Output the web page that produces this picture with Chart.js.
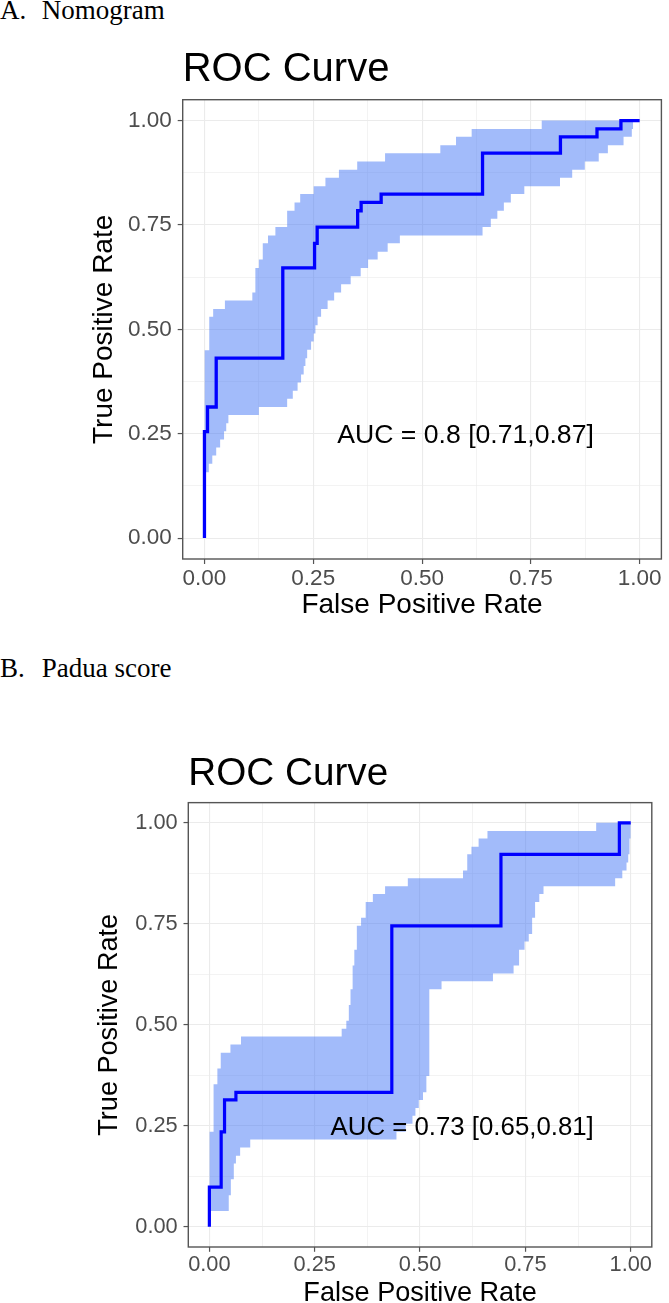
<!DOCTYPE html>
<html lang="en">
<head>
<meta charset="utf-8">
<title>ROC curves — Nomogram vs Padua score</title>
<script src="https://cdn.jsdelivr.net/npm/chart.js@4.4.1/dist/chart.umd.min.js"></script>
<style>
  html, body { margin: 0; padding: 0; background: #fff; overflow: hidden; }
  body { position: relative; width: 669px; height: 1303px; }
  .panel-head { position: absolute; left: 0; width: 300px; height: 30px;
    font: 27px/1 "Liberation Serif", "Times New Roman", serif; color: #000; white-space: nowrap; }
  .panel-head span { position: absolute; top: 0; }
  .panel-head .tag { left: 0; }
  .panel-head .name { left: 41.7px; }
  canvas { position: absolute; left: 0; }
</style>
</head>
<body>
  <div class="panel-head" style="top:-2.6px"><span class="tag">A.</span><span class="name">Nomogram</span></div>
  <canvas id="rocA" width="669" height="610" style="top:30px;width:669px;height:610px"></canvas>
  <div class="panel-head" style="top:654.7px"><span class="tag">B.</span><span class="name">Padua score</span></div>
  <canvas id="rocB" width="669" height="600" style="top:720px;width:669px;height:600px"></canvas>

<script>
/* values */
const gridTicks = [0, 0.125, 0.25, 0.375, 0.5, 0.625, 0.75, 0.875, 1];
const majorTicks = [0, 0.25, 0.5, 0.75, 1];
const majorLabels = ['0.00', '0.25', '0.50', '0.75', '1.00'];

// A. Nomogram — ROC steps
const nomoFpr = [0, 0, 0.007, 0.027, 0.180, 0.253, 0.259, 0.352, 0.360, 0.406, 0.639, 0.818, 0.902, 0.957, 1];
const nomoTpr = [0, 0.255, 0.314, 0.431, 0.647, 0.706, 0.745, 0.784, 0.804, 0.824, 0.922, 0.961, 0.980, 1, 1];
// A. confidence band, upper edge
const nomoUpFpr = [0, 0.011, 0.020, 0.047, 0.110, 0.117, 0.125, 0.134, 0.146, 0.163, 0.190, 0.207,
  0.220, 0.251, 0.278, 0.309, 0.351, 0.415, 0.542, 0.578, 0.614, 0.775, 0.985];
const nomoUpTpr = [0.450, 0.530, 0.549, 0.569, 0.588, 0.647, 0.667, 0.706, 0.725, 0.745, 0.784, 0.804,
  0.824, 0.843, 0.863, 0.882, 0.902, 0.922, 0.941, 0.961, 0.980, 1, 1];
// A. confidence band, lower edge
const nomoLoFpr = [0, 0.010, 0.018, 0.027, 0.036, 0.045, 0.050, 0.055, 0.125, 0.190, 0.203, 0.214,
  0.222, 0.228, 0.232, 0.236, 0.245, 0.251, 0.255, 0.260, 0.268, 0.283, 0.298, 0.314, 0.336, 0.359,
  0.376, 0.398, 0.421, 0.449, 0.639, 0.658, 0.673, 0.688, 0.704, 0.735, 0.817, 0.845, 0.874, 0.906,
  0.927, 0.963, 0.982, 0.985];
const nomoLoTpr = [0.158, 0.178, 0.198, 0.217, 0.236, 0.256, 0.275, 0.295, 0.314, 0.334, 0.353, 0.373,
  0.392, 0.412, 0.431, 0.451, 0.471, 0.490, 0.510, 0.530, 0.549, 0.569, 0.588, 0.608, 0.627, 0.647,
  0.667, 0.686, 0.706, 0.725, 0.745, 0.765, 0.784, 0.804, 0.824, 0.843, 0.863, 0.882, 0.902, 0.922,
  0.941, 0.961, 0.980, 0.980];

// B. Padua score — ROC steps
const paduaFpr = [0, 0, 0.028, 0.036, 0.063, 0.433, 0.692, 0.973, 1];
const paduaTpr = [0, 0.098, 0.235, 0.314, 0.333, 0.745, 0.922, 1, 1];
// B. confidence band, upper edge
const paduaUpFpr = [0, 0.010, 0.019, 0.027, 0.050, 0.075, 0.314, 0.325, 0.331, 0.335, 0.340, 0.344,
  0.350, 0.360, 0.371, 0.388, 0.417, 0.471, 0.602, 0.612, 0.622, 0.639, 0.660, 0.918, 1];
const paduaUpTpr = [0.235, 0.353, 0.392, 0.431, 0.451, 0.471, 0.490, 0.510, 0.549, 0.588, 0.647, 0.686,
  0.745, 0.765, 0.804, 0.824, 0.843, 0.863, 0.882, 0.922, 0.941, 0.961, 0.980, 1, 1];
// B. confidence band, lower edge
const paduaLoFpr = [0, 0.046, 0.051, 0.058, 0.063, 0.073, 0.097, 0.444, 0.466, 0.482, 0.489, 0.497,
  0.507, 0.515, 0.522, 0.551, 0.673, 0.722, 0.735, 0.748, 0.758, 0.766, 0.773, 0.783, 0.793, 0.963,
  0.980, 0.990, 0.994, 0.997, 1];
const paduaLoTpr = [0.039, 0.078, 0.118, 0.157, 0.176, 0.196, 0.216, 0.235, 0.255, 0.275, 0.294, 0.314,
  0.333, 0.373, 0.588, 0.608, 0.627, 0.647, 0.686, 0.706, 0.725, 0.765, 0.804, 0.824, 0.843, 0.863,
  0.882, 0.902, 0.922, 0.961, 0.980];

const aucText = ['AUC = 0.8 [0.71,0.87]', 'AUC = 0.73 [0.65,0.81]'];
const aucAt = [0.6, 0.245];

(function () {
  'use strict';
  const SANS = '"Liberation Sans", Arial, Helvetica, sans-serif';
  const INK = '#000', TICK_INK = '#4d4d4d', FRAME = '#555555', GRID = '#ebebeb';
  const BAND = 'rgba(70,120,245,0.5)', LINE = '#0000ff';

  Chart.defaults.font.family = SANS;

  const pts = (xs, ys) => xs.map((x, i) => ({ x, y: ys[i] }));
  const isMajor = v => majorTicks.includes(v);

  // ggplot-style panel border, over the data
  const frame = {
    id: 'frame',
    afterDatasetsDraw(chart) {
      const { ctx, chartArea: a } = chart;
      ctx.save();
      ctx.strokeStyle = FRAME;
      ctx.lineWidth = 1.4;
      ctx.strokeRect(a.left, a.top, a.right - a.left, a.bottom - a.top);
      ctx.restore();
    }
  };

  // the AUC annotation, placed in data units
  const note = {
    id: 'note',
    afterDatasetsDraw(chart, _args, o) {
      const { ctx, scales: { x, y } } = chart;
      ctx.save();
      ctx.font = `${o.size}px ${SANS}`;
      ctx.fillStyle = INK;
      ctx.textAlign = 'center';
      ctx.textBaseline = 'middle';
      ctx.fillText(o.text, x.getPixelForValue(aucAt[0]), y.getPixelForValue(aucAt[1]));
      ctx.restore();
    }
  };

  function axis(L, horizontal, title) {
    return {
      type: 'linear', min: -0.05, max: 1.05, bounds: 'data',
      afterBuildTicks: s => { s.ticks = gridTicks.map(value => ({ value })); },
      afterFit: s => { if (horizontal) s.height = L.xAxisH; else s.width = L.yAxisW; },
      border: { display: false },
      grid: {
        color: GRID,
        lineWidth: c => (c.tick && isMajor(c.tick.value)) ? 1.1 : 0.6,
        tickLength: L.tick,
        tickWidth: 1.2,
        tickColor: c => (c.tick && isMajor(c.tick.value)) ? FRAME : 'rgba(0,0,0,0)'
      },
      ticks: {
        autoSkip: false, maxRotation: 0, minRotation: 0,
        color: TICK_INK, font: { size: L.tickSize },
        padding: horizontal ? L.xTickPad : L.yTickPad,
        callback: v => { const i = majorTicks.indexOf(v); return i < 0 ? '' : majorLabels[i]; }
      },
      title: {
        display: true, text: title, color: INK, font: { size: L.axisSize },
        padding: horizontal ? { top: 0, bottom: L.xTitlePad } : { top: L.yTitlePad, bottom: 0 }
      }
    };
  }

  function draw(id, L, s) {
    new Chart(document.getElementById(id), {
      type: 'line',
      data: {
        datasets: [
          { data: pts(s.upFpr, s.upTpr), stepped: 'before', fill: '+1', backgroundColor: BAND,
            borderColor: 'transparent', borderWidth: 0, pointRadius: 0, order: 2 },
          { data: pts(s.loFpr, s.loTpr), stepped: 'before', fill: false,
            borderColor: 'transparent', borderWidth: 0, pointRadius: 0, order: 3 },
          { data: pts(s.fpr, s.tpr), stepped: 'before', fill: false, borderColor: LINE,
            borderWidth: L.line, pointRadius: 0, order: 1 }
        ]
      },
      options: {
        responsive: false, animation: false, events: [],
        layout: { padding: { left: 0, top: 0, bottom: 0, right: L.padRight } },
        scales: { x: axis(L, true, 'False Positive Rate'), y: axis(L, false, 'True Positive Rate') },
        plugins: {
          legend: { display: false },
          tooltip: { enabled: false },
          title: {
            display: true, text: 'ROC Curve', align: 'start', fullSize: false, color: INK,
            font: { size: L.titleSize, weight: 'normal' },
            padding: { top: L.titleTop, bottom: L.titleBottom }
          },
          note: { text: s.auc, size: L.aucSize }
        }
      },
      plugins: [frame, note]
    });
  }

  draw('rocA', {
    padRight: 7.6, yAxisW: 182.7, xAxisH: 81, tick: 5, line: 3.3,
    tickSize: 22.5, axisSize: 28, titleSize: 40, aucSize: 26.6,
    titleTop: 16.3, titleBottom: 5.4, xTickPad: 0.8, yTickPad: 6, xTitlePad: 17.7, yTitlePad: 87.4
  }, {
    fpr: nomoFpr, tpr: nomoTpr, upFpr: nomoUpFpr, upTpr: nomoUpTpr,
    loFpr: nomoLoFpr, loTpr: nomoLoTpr, auc: aucText[0]
  });

  draw('rocB', {
    padRight: 17.2, yAxisW: 188.3, xAxisH: 73, tick: 4.8, line: 3.2,
    tickSize: 21.8, axisSize: 27.1, titleSize: 38.7, aucSize: 25.8,
    titleTop: 31.0, titleBottom: 5.2, xTickPad: 0.1, yTickPad: 5.8, xTitlePad: 10.2, yTitlePad: 93.5
  }, {
    fpr: paduaFpr, tpr: paduaTpr, upFpr: paduaUpFpr, upTpr: paduaUpTpr,
    loFpr: paduaLoFpr, loTpr: paduaLoTpr, auc: aucText[1]
  });
})();
</script>
</body>
</html>
